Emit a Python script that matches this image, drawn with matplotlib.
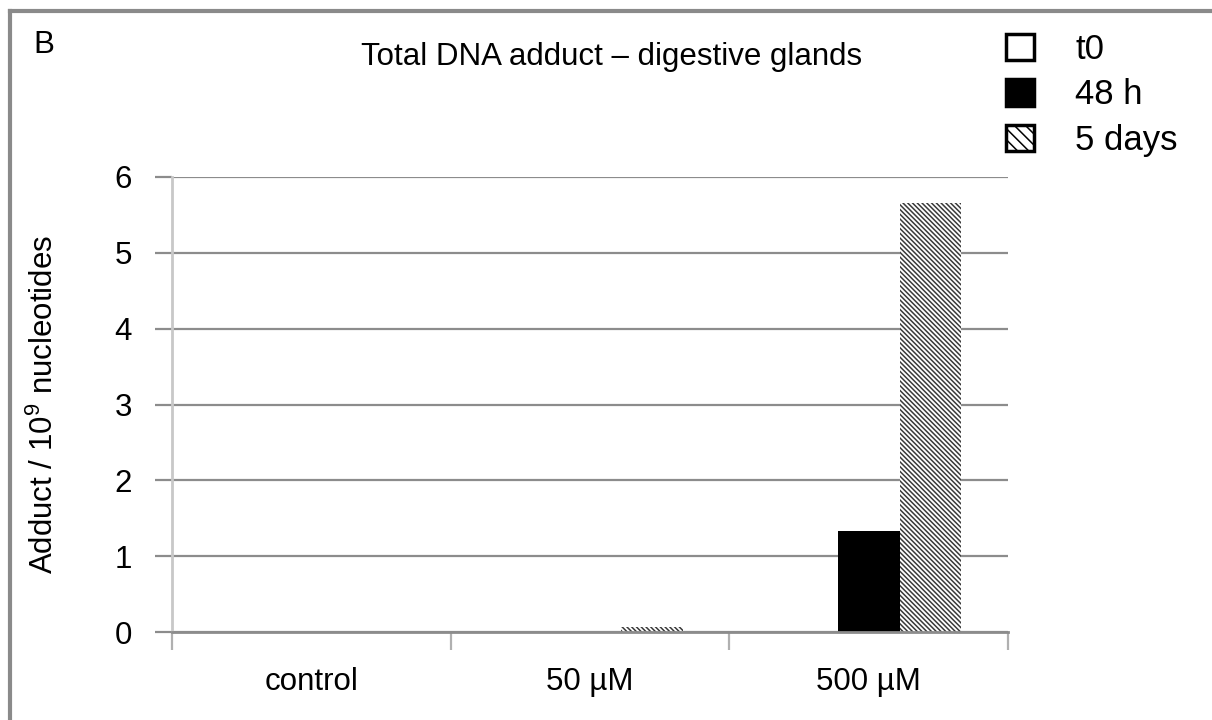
import numpy as np
import matplotlib
matplotlib.use("Agg")
import matplotlib.pyplot as plt
import matplotlib.patches as mpatches
from matplotlib.lines import Line2D

plt.rcParams['font.family'] = ['Liberation Sans', 'DejaVu Sans']
plt.rcParams['mathtext.fontset'] = 'custom'
plt.rcParams['mathtext.rm'] = 'Liberation Sans'
plt.rcParams['hatch.linewidth'] = 1.1

# Datos
categorias = ['control', '50 µM', '500 µM']
series = ['t0', '48 h', '5 days']
t0 = [0.0, 0.0, 0.0]
h48 = [0.0, 0.0, 1.33]
dias5 = [0.0, 0.07, 5.66]

fig = plt.figure(figsize=(12.12, 7.2), dpi=100)
ax = fig.add_axes([172/1212, 1 - 632/720, (1008-172)/1212, (632-177)/720])

x = np.arange(len(categorias))
w = 0.222
ax.bar(x - w, t0, w, color='white', linewidth=0)
ax.bar(x, h48, w, color='black', linewidth=0)
ax.bar(x + w, dias5, w, color='white', edgecolor='#3a3a3a', hatch='\\' * 7, linewidth=0)

ax.set_xlim(-0.5, 2.5)
ax.set_ylim(0, 6)
ax.set_yticks(range(0, 7))
ax.yaxis.grid(True, color='#8c8c8c', linewidth=1.6)
ax.set_axisbelow(True)

ax.set_xticks(x)
ax.set_xticklabels(categorias, fontsize=22.5)
ax.set_xticks([-0.5, 0.5, 1.5, 2.5], minor=True)
ax.tick_params(axis='x', which='major', length=0, pad=25)
ax.tick_params(axis='x', which='minor', length=13, width=1.6, color='#b0b0b0')
ax.tick_params(axis='y', length=12, width=1.6, color='#8c8c8c', labelsize=22.5, pad=17)

for s in ['top', 'right']:
    ax.spines[s].set_visible(False)
ax.spines['left'].set_color('#c8c8c8')
ax.spines['left'].set_linewidth(2)
ax.spines['bottom'].set_color('#8c8c8c')
ax.spines['bottom'].set_linewidth(2)

ax.set_ylabel('Adduct / 10$^9$ nucleotides', fontsize=22.5, labelpad=39)

fig.text(612/1212, 1 - 57/720, 'Total DNA adduct – digestive glands', fontsize=22.5,
         ha='center', va='center')
fig.text(33/1212, 1 - 45/720, 'B', fontsize=22.5, ha='left', va='center')

handles = [
    mpatches.Patch(facecolor='white', edgecolor='black', linewidth=2.5),
    mpatches.Patch(facecolor='black', edgecolor='black', linewidth=2.5),
    mpatches.Patch(facecolor='white', edgecolor='black', linewidth=2.5, hatch='\\\\\\'),
]
fig.legend(handles, series, loc='upper left', bbox_to_anchor=(1006/1212, 1 - 33/720),
           frameon=False, fontsize=25, handlelength=0.8, handleheight=0.8,
           handletextpad=1.2, labelspacing=0.36, borderpad=0, borderaxespad=0)

# marco exterior
fig.add_artist(Line2D([10/1212, 10/1212], [0, 1 - 11/720], transform=fig.transFigure,
                      color='#8a8a8a', linewidth=3))
fig.add_artist(Line2D([10/1212, 1], [1 - 11/720, 1 - 11/720], transform=fig.transFigure,
                      color='#8a8a8a', linewidth=3))

fig.savefig('out.png', dpi=100)
